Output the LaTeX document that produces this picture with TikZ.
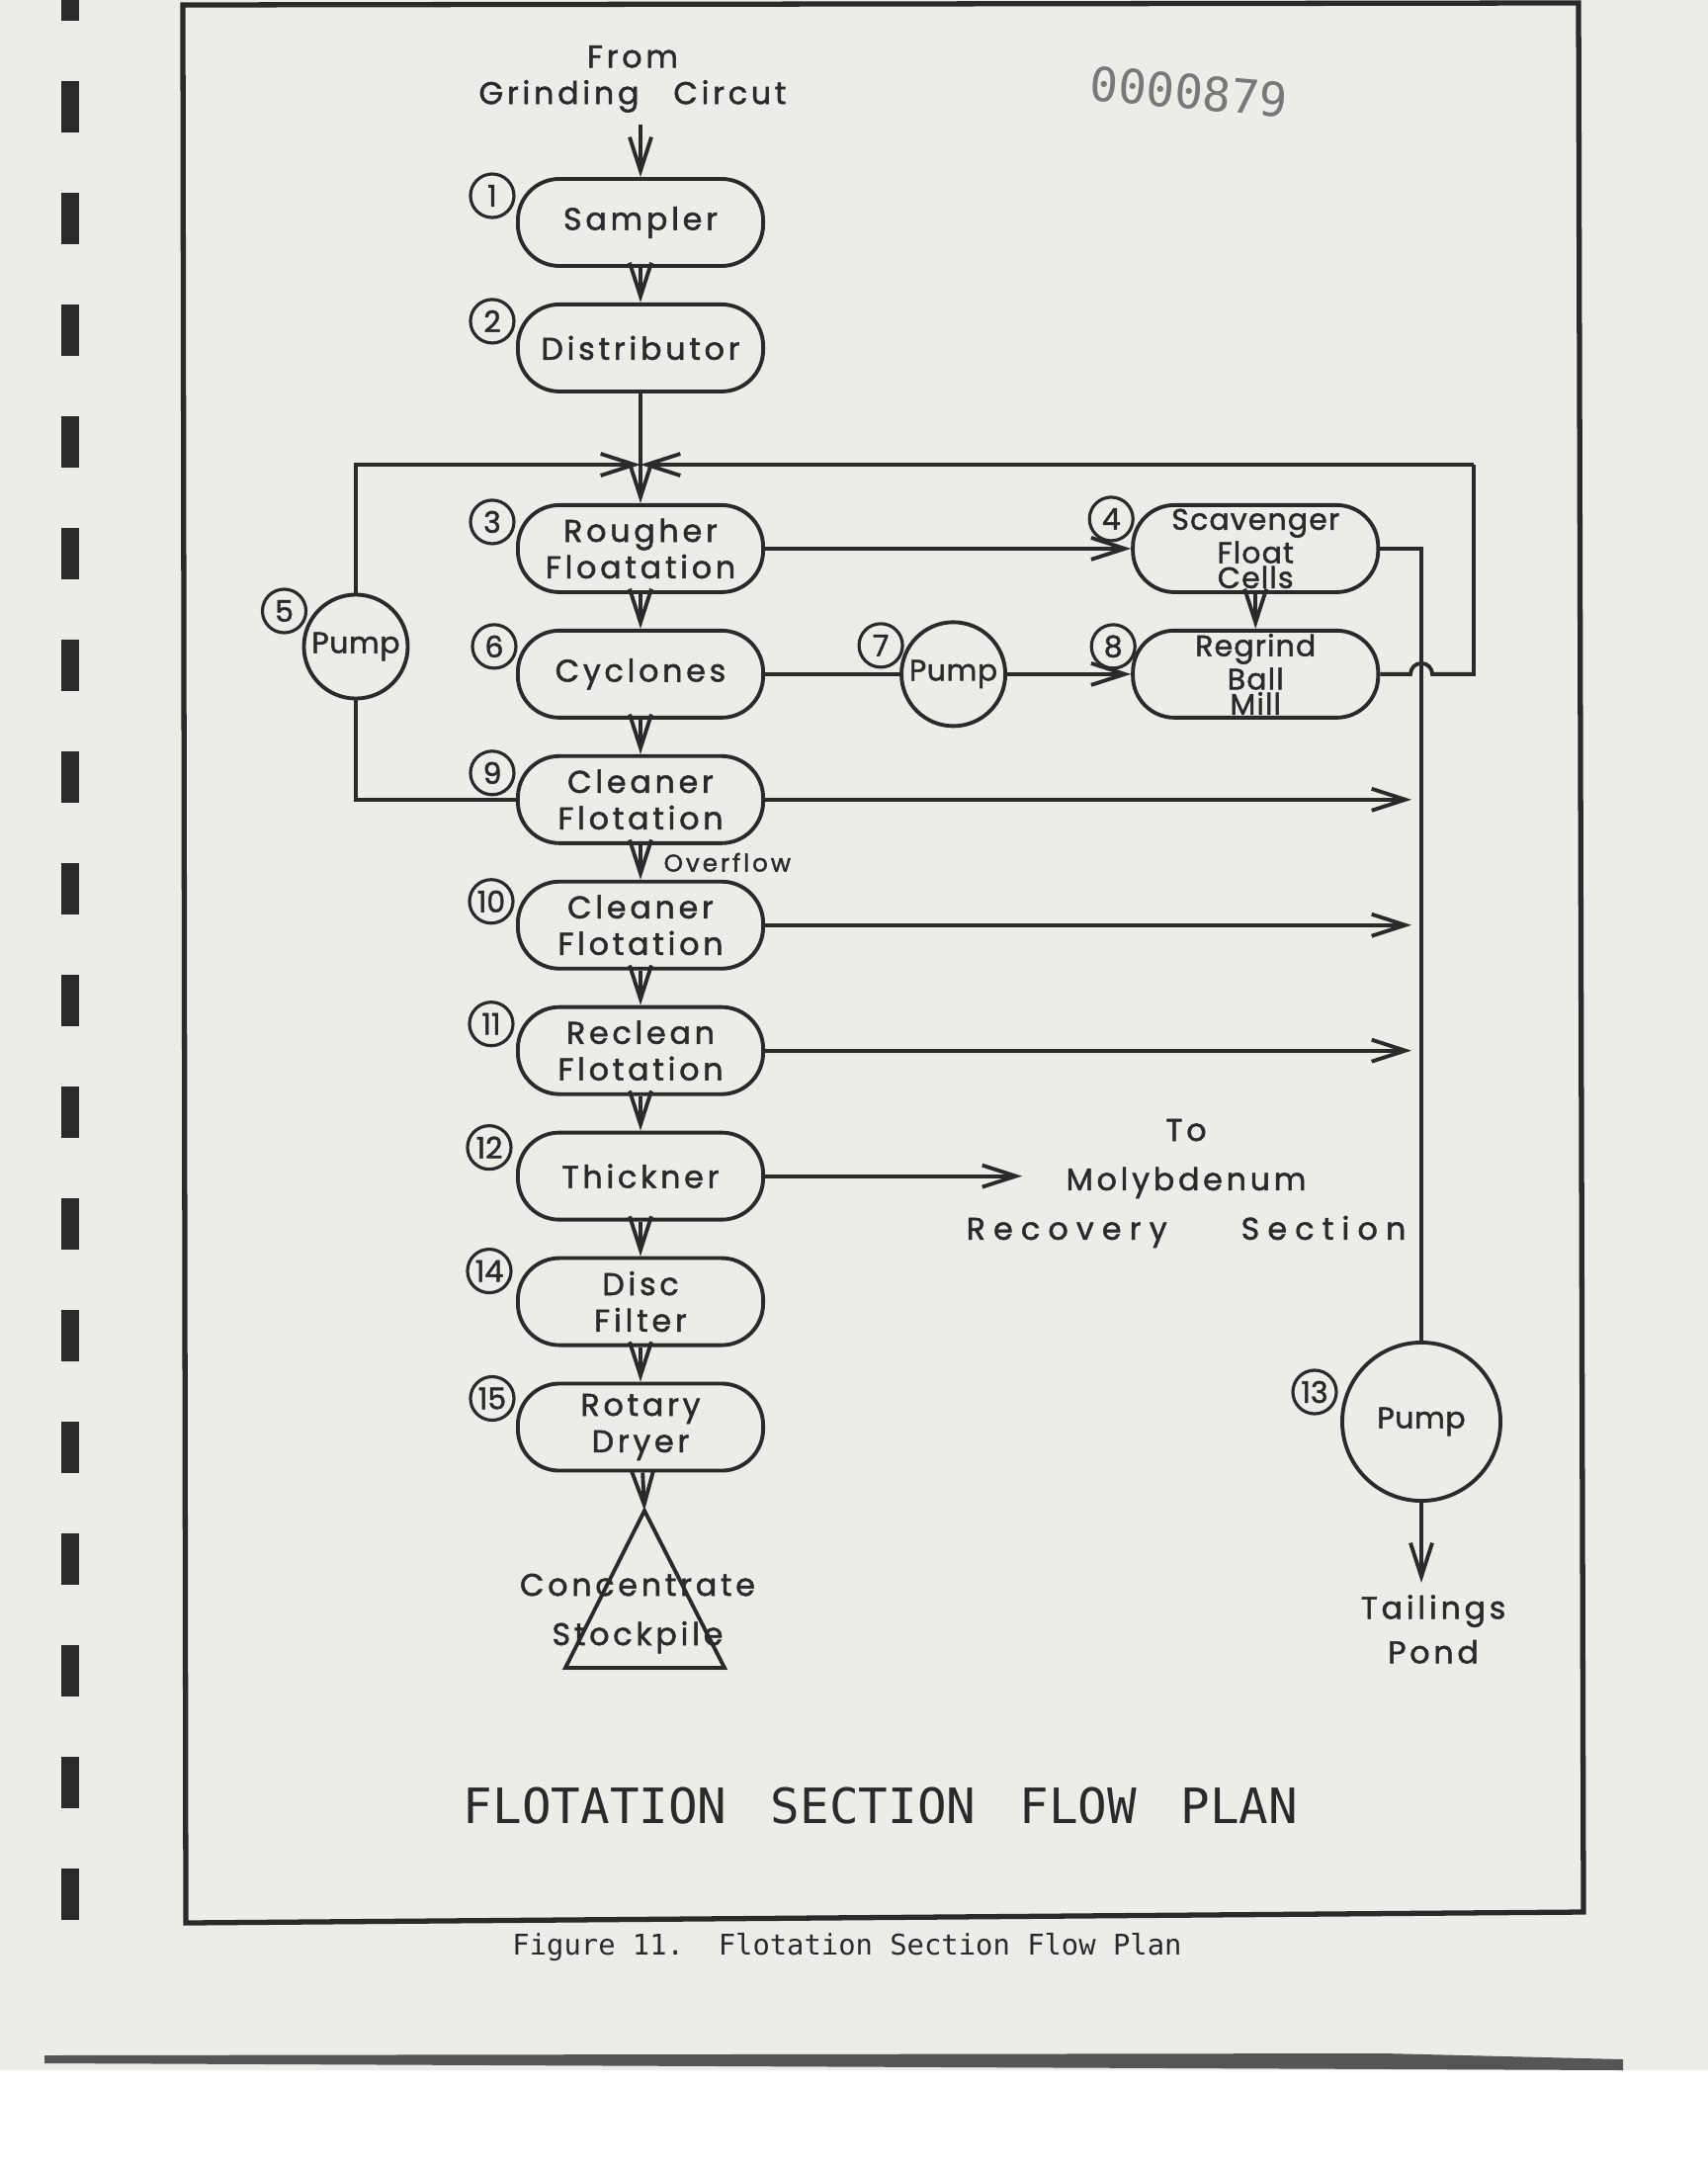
\documentclass[tikz,border=0pt]{standalone}
\usepackage{fontspec}
\newfontfamily\lettering{Poppins}[LetterSpace=12, FakeBold=1.6]
\newfontfamily\typewriter{DejaVu Sans Mono}
\usepackage{tikz}
\usetikzlibrary{arrows.meta, positioning}
\definecolor{ink}{RGB}{42,42,42}
\definecolor{paper}{RGB}{236,236,233}
\definecolor{stamp}{RGB}{120,120,120}

\begin{document}
\begin{tikzpicture}[
  x=0.01cm, y=-0.01cm,
  node distance=0.35cm and 3.70cm,
  unit/.style    = {rectangle, rounded corners=0.42cm, draw=ink, line width=1.1pt,
                    minimum width=2.48cm, minimum height=0.88cm, inner sep=1pt,
                    align=center, text=ink,
                    font=\lettering\fontsize{9}{10.5}\selectfont},
  tallunit/.style= {unit, inner sep=0pt,
                    font=\lettering\addfontfeatures{LetterSpace=4}\fontsize{8.5}{7.2}\selectfont},
  pump/.style    = {circle, draw=ink, line width=1.1pt, minimum size=1.05cm,
                    inner sep=0pt, text=ink,
                    font=\lettering\addfontfeatures{LetterSpace=2}\fontsize{8.5}{8.5}\selectfont},
  num/.style     = {circle, draw=ink, line width=0.9pt, minimum size=0.44cm,
                    inner sep=0pt, text=ink,
                    font=\lettering\addfontfeatures{LetterSpace=0}\fontsize{8.5}{8.5}\selectfont},
  tag/.style     = {align=center, text=ink,
                    font=\lettering\fontsize{9}{14.2}\selectfont},
  arrow/.style   = {-{Straight Barb[length=3.4mm, width=2.2mm]}, draw=ink, line width=1.1pt},
  pipe/.style    = {draw=ink, line width=1.1pt}
]

% page and frame
\useasboundingbox (0,0) rectangle (1728,2200);
\fill[white] (0,0) rectangle (1728,2200);
\fill[paper] (0,0) rectangle (1728,2094);
\fill[ink!80] (45,2079) -- (1400,2077) -- (1642,2083) -- (1642,2094) -- (45,2087) -- cycle;
\foreach \k in {-1,...,16}
  \fill[ink] (62,{82+113*\k}) rectangle (80,{134+113*\k});
\draw[ink, line width=1.5pt] (185,5) -- (1597,3) -- (1602,1934) -- (188,1945) -- cycle;

\node[rotate=-5, text=stamp, font=\typewriter\fontsize{13.5}{13.5}\selectfont]
  (docno) at (1203,93) {0000879};

% main column
\node[tag, font=\lettering\fontsize{9}{10.5}\selectfont] (src) at (640,80)
  {From\\Grinding\hspace{0.35cm}Circut};

\node[unit] (sampler) at (648,225) {Sampler};
\node[unit, below=of sampler] (dist) {Distributor};
\node[unit, below=1.11cm of dist] (rough) {Rougher\\Floatation};
\node[unit, below=of rough] (cyc) {Cyclones};
\node[unit, below=of cyc] (clean1) {Cleaner\\Flotation};
\node[unit, below=of clean1] (clean2) {Cleaner\\Flotation};
\node[unit, below=of clean2] (reclean) {Reclean\\Flotation};
\node[unit, below=of reclean] (thick) {Thickner};
\node[unit, below=of thick] (disc) {Disc\\Filter};
\node[unit, below=of disc] (dryer) {Rotary\\Dryer};

% right side
\node[tallunit, right=of rough] (scav) {Scavenger\\Float\\Cells};
\node[tallunit, below=of scav] (regrind) {Regrind\\Ball\\Mill};
\node[pump, right=1.36cm of cyc] (pump7) {Pump};
\node[pump] (pump5) at (360,654) {Pump};
\node[pump, minimum size=1.6cm] (pump13) at (1438,1438) {Pump};

\node[tag] (moly) at (1200,1197)
  {To\\Molybdenum\\{\addfontfeatures{LetterSpace=26}Recovery\hspace{0.75cm}Section}};
\node[tag, font=\lettering\fontsize{9}{12.8}\selectfont] (tail) at (1450,1648) {Tailings\\Pond};
\node[tag] (stock) at (645,1632) {Concentrate\\Stockpile};

% item numbers
\node[num] (n1)  at ([shift={(-24,-27)}]sampler.west) {1};
\node[num] (n2)  at ([shift={(-24,-27)}]dist.west)    {2};
\node[num] (n3)  at ([shift={(-24,-27)}]rough.west)   {3};
\node[num] (n4)  at ([shift={(-20,-30)}]scav.west)    {4};
\node[num] (n5)  at ([shift={(-18,-36)}]pump5.west)   {5};
\node[num] (n6)  at ([shift={(-22,-28)}]cyc.west)     {6};
\node[num] (n7)  at ([shift={(-19,-29)}]pump7.west)   {7};
\node[num] (n8)  at ([shift={(-18,-28)}]regrind.west) {8};
\node[num] (n9)  at ([shift={(-24,-27)}]clean1.west)  {9};
\node[num] (n10) at ([shift={(-25,-24)}]clean2.west)  {10};
\node[num] (n11) at ([shift={(-25,-27)}]reclean.west) {11};
\node[num] (n12) at ([shift={(-27,-29)}]thick.west)   {12};
\node[num] (n13) at ([shift={(-26,-30)}]pump13.west)  {13};
\node[num] (n14) at ([shift={(-27,-31)}]disc.west)    {14};
\node[num] (n15) at ([shift={(-24,-29)}]dryer.west)   {15};

\coordinate (join) at (648,470);
\coordinate (ret) at (1491,470);
\coordinate (hop) at (pump13.north |- regrind.east);
\coordinate (molyin) at (1034,1190);
\coordinate (pile) at (652,1528);

% stockpile
\draw[pipe] (pile) -- (733,1687) -- (572,1687) -- cycle;

% connectors
\draw[arrow] (sampler.north |- src.south) -- (sampler);
\draw[arrow] (sampler) -- (dist);
\draw[pipe]  (dist) -- (join);
\draw[arrow] (join) -- (rough);
\draw[arrow] (rough) -- (cyc);
\draw[arrow] (cyc) -- (clean1);
\draw[arrow] (clean1) -- node[right=1mm, font=\lettering\fontsize{7}{7}\selectfont, text=ink]{Overflow} (clean2);
\draw[arrow] (clean2) -- (reclean);
\draw[arrow] (reclean) -- (thick);
\draw[arrow] (thick) -- (disc);
\draw[arrow] (disc) -- (dryer);
\draw[arrow] (dryer) -- (pile);

\draw[pipe]  (clean1.west) -| (pump5.south);
\draw[arrow] (pump5.north) |- (join);

\draw[arrow] (rough) -- (scav);
\draw[arrow] (scav) -- (regrind);
\draw[pipe]  (cyc) -- (pump7);
\draw[arrow] (pump7) -- (regrind);
\draw[pipe]  (regrind.east) -- ([xshift=-0.11cm]hop) arc (180:360:11) -- (ret |- hop) -- (ret);
\draw[arrow] (ret) -- (join);

\draw[pipe]  (scav.east) -| (pump13.north);
\draw[arrow, shorten >=1mm] (clean1.east) -- (clean1.east -| pump13.north);
\draw[arrow, shorten >=1mm] (clean2.east) -- (clean2.east -| pump13.north);
\draw[arrow, shorten >=1mm] (reclean.east) -- (reclean.east -| pump13.north);
\draw[arrow] (thick.east) -- (thick.east -| molyin);
\draw[arrow] (pump13.south) -- (pump13.south |- tail.north);

% titles
\node[text=ink, font=\typewriter\fontsize{14}{14}\selectfont] (title) at (891,1827)
  {FLOTATION\hspace{0.9em}SECTION\hspace{0.9em}FLOW\hspace{0.9em}PLAN};
\node[text=ink, font=\typewriter\fontsize{8.2}{8.2}\selectfont] (caption) at (857,1970)
  {Figure 11.\ \ Flotation Section Flow Plan};

\end{tikzpicture}
\end{document}
